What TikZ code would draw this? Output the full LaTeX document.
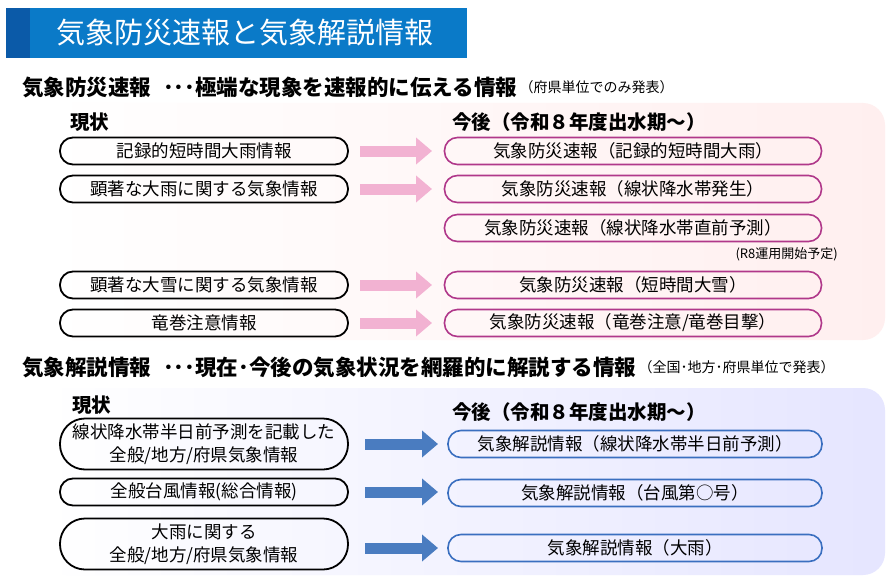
\documentclass[tikz,border=0pt]{standalone}
\usepackage{fontspec}
\setmainfont{Noto Sans CJK JP}
\usetikzlibrary{arrows.meta}
\definecolor{tblue}{HTML}{0A7AC8}
\definecolor{tdark}{HTML}{0B5AA8}
\definecolor{pinkbd}{HTML}{B0388A}
\definecolor{pinkar}{HTML}{F2B2D2}
\definecolor{bluebd}{HTML}{3A6FC0}
\definecolor{bluear}{HTML}{4A7CC0}
\tikzset{
 x=1pt,y=-1pt,
 lbox/.style={draw=black,line width=1.8pt,rounded corners=13pt,minimum width=288pt,minimum height=27pt,align=center,font=\fontsize{17.5}{23}\selectfont,inner sep=1pt},
 pbox/.style={draw=pinkbd,line width=1.6pt,rounded corners=13pt,minimum width=377pt,minimum height=27pt,font=\fontsize{17.5}{20}\selectfont,inner sep=1pt},
 bbox/.style={draw=bluebd,line width=1.6pt,rounded corners=13pt,minimum width=374pt,minimum height=27pt,font=\fontsize{17.5}{20}\selectfont,inner sep=1pt},
 parrow/.style={line width=11pt,draw=pinkar,-{Triangle[length=16pt,width=26pt]}},
 barrow/.style={line width=11pt,draw=bluear,-{Triangle[length=16pt,width=26pt]}},
 head/.style={font=\bfseries\fontsize{21.5}{24}\selectfont,anchor=west,inner sep=0pt},
 sub/.style={font=\bfseries\fontsize{19.5}{22}\selectfont,anchor=west,inner sep=0pt},
 small/.style={font=\fontsize{14}{16}\selectfont,anchor=west,inner sep=0pt},
}
\begin{document}
\begin{tikzpicture}
\useasboundingbox (0,0) rectangle (896,583);
\fill[white] (0,0) rectangle (896,583);
% title
\fill[tblue] (6,8) rectangle (467,58);
\fill[tdark] (6,8) rectangle (30,58);
\node[text=white,font=\fontsize{29}{33}\selectfont,anchor=west,inner sep=0pt] (title) at (56,33) {気象防災速報と気象解説情報};
% heading 1
\node[head] (h1) at (22,87) {気象防災速報\hspace{12pt}･･･極端な現象を速報的に伝える情報};
\node[small] (h1s) at (h1.east) {\hspace{2pt}（府県単位でのみ発表）};
% panel 1
\shade[left color=white,right color=pink!25,rounded corners=22pt] (45,103) rectangle (885,340);
\node[sub] (now1) at (70,122) {現状};
\node[sub] (fut1) at (452,122) {今後（令和８年度出水期～）};
\foreach \n/\y/\t in {a/151/記録的短時間大雨情報, b/189/顕著な大雨に関する気象情報, c/285/顕著な大雪に関する気象情報, d/323/竜巻注意情報}{
  \node[lbox] (l\n) at (204,\y) {\t};
  \coordinate (ps\n) at (360,\y);
  \coordinate (pe\n) at (432,\y);
  \draw[parrow] (ps\n) -- (pe\n);
}
\node[pbox] (ra) at (633,151) {気象防災速報（記録的短時間大雨）};
\node[pbox] (rb) at (633,189) {気象防災速報（線状降水帯発生）};
\node[pbox] (re) at (633,228) {気象防災速報（線状降水帯直前予測）};
\node[pbox] (rc) at (633,285) {気象防災速報（短時間大雪）};
\node[pbox] (rd) at (633,323) {気象防災速報（竜巻注意/竜巻目撃）};
\node[small,anchor=east,font=\fontsize{13}{15}\selectfont] (r8) at (838,254) {(R8運用開始予定)};
% heading 2
\node[head] (h2) at (22,367) {気象解説情報\hspace{12pt}･･･現在･今後の気象状況を網羅的に解説する情報};
\node[small] (h2s) at (h2.east) {\hspace{2pt}（全国･地方･府県単位で発表）};
% panel 2
\shade[left color=white,right color=blue!10,rounded corners=22pt] (45,388) rectangle (885,575);
\node[sub] (now2) at (72,405) {現状};
\node[sub] (fut2) at (452,412) {今後（令和８年度出水期～）};
\node[lbox,minimum height=51pt,rounded corners=25pt] (la2) at (204,444) {線状降水帯半日前予測を記載した\\全般/地方/府県気象情報};
\node[lbox] (lb2) at (204,492) {全般台風情報(総合情報)};
\node[lbox,minimum height=51pt,rounded corners=25pt] (lc2) at (204,544) {大雨に関する\\全般/地方/府県気象情報};
\foreach \n/\y in {a/444,b/492,c/548}{
  \coordinate (bs\n) at (365,\y);
  \coordinate (be\n) at (438,\y);
  \draw[barrow] (bs\n) -- (be\n);
}
\node[bbox] (ra2) at (635,444) {気象解説情報（線状降水帯半日前予測）};
\node[bbox] (rb2) at (635,493) {気象解説情報（台風第○号）};
\node[bbox] (rc2) at (635,548) {気象解説情報（大雨）};
\end{tikzpicture}
\end{document}
